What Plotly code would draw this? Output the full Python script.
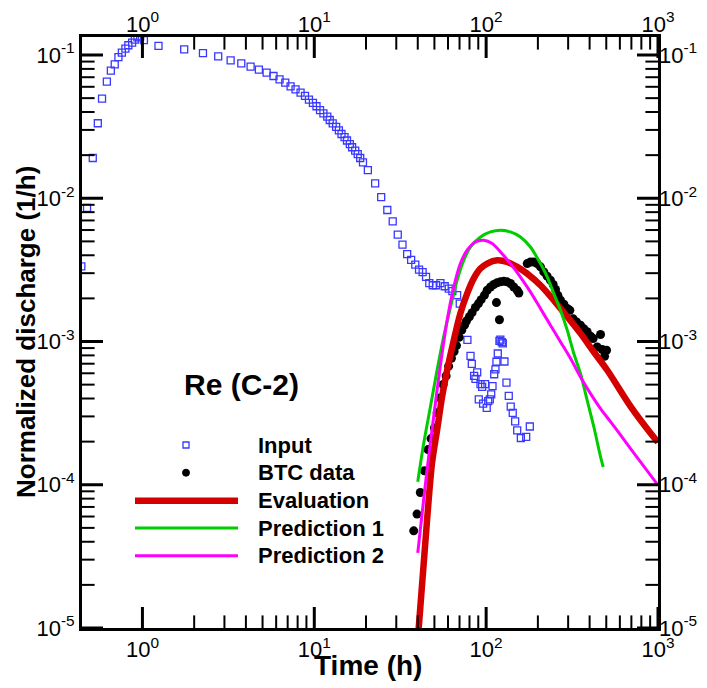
import math
import plotly.graph_objects as go

# ---------------- data ----------------
input_t = [0.441, 0.476, 0.514, 0.55, 0.582, 0.621, 0.655, 0.69, 0.725, 0.759, 0.796, 0.828, 0.871, 0.903,
           0.935, 0.97, 1.02, 1.24, 1.75, 2.25, 2.76, 3.26, 3.76, 4.26, 4.76, 5.28, 5.79, 6.28, 6.78, 7.28,
           7.78, 8.32, 8.83, 9.31, 9.82, 10.3, 10.8, 11.3, 11.9, 12.3, 12.8, 13.4, 13.9, 14.4, 15.0, 15.5,
           16.1, 16.6, 17.3, 17.9, 18.5, 19.2, 20.5, 22.6, 24.5, 26.6, 28.6, 30.6, 32.6, 34.7, 36.6, 38.7,
           40.7, 42.7, 44.7, 46.7, 48.9, 51.1, 54.2, 57.4, 60.6, 63.6, 67.8, 70.2, 77.8, 81.1, 82.5, 85.1,
           86.7, 88.7, 90.6, 92.7, 94.8, 96.0, 98.6, 100.8, 102.8, 105, 107, 108.9, 111.4, 113.3, 114.8,
           116.9, 119.5, 121, 123.3, 125, 127.8, 131.3, 135.4, 139, 142.8, 147.5, 151.6, 159.2, 171, 179.5]
input_q = [0.00335, 0.00855, 0.0191, 0.0334, 0.0496, 0.0652, 0.0778, 0.0861, 0.0968, 0.104, 0.111, 0.117,
           0.122, 0.128, 0.133, 0.135, 0.127, 0.116, 0.1096, 0.103, 0.098, 0.0918, 0.0875, 0.083, 0.079,
           0.0754, 0.0714, 0.0676, 0.0641, 0.0605, 0.0576, 0.0547, 0.0518, 0.0489, 0.0463, 0.0439, 0.0413,
           0.0392, 0.0371, 0.0352, 0.0333, 0.0315, 0.0298, 0.0281, 0.0267, 0.0253, 0.0239, 0.0227, 0.0215,
           0.0203, 0.0191, 0.0178, 0.0157, 0.0127, 0.0102, 0.00828, 0.0069, 0.00558, 0.00475, 0.00407,
           0.00371, 0.00344, 0.00318, 0.00305, 0.00283, 0.00256, 0.00247, 0.00247, 0.00256, 0.00243,
           0.00234, 0.00225, 0.00211, 0.00184, 0.001026, 0.000794, 0.000699, 0.000575, 0.000548, 0.000608,
           0.000394, 0.000504, 0.000482, 0.000369, 0.000504, 0.000344, 0.000383, 0.000394, 0.000427,
           0.000488, 0.000591, 0.000638, 0.000722, 0.000825, 0.00101, 0.00103, 0.00099, 0.00097, 0.000725,
           0.000517, 0.000417, 0.000351, 0.000318, 0.000277, 0.00024, 0.000212, 0.000216, 0.000255]

btc_t = [37.9, 39.6, 41.4, 43.7, 45.9, 47.8, 50, 51.9, 53.7, 56.2, 58.5, 60.5, 62.8, 65.1, 67.2, 69.6, 72.1,
         74.8, 76.8, 79.9, 82.8, 86.6, 90.2, 93.5, 97.8, 101.4, 106, 110.7, 115.8, 121.1, 126.7, 132.5, 138.6,
         144.8, 151.5, 155, 114.8, 119.5, 173.4, 181.1, 189.3, 198.1, 207, 216.5, 226.4, 236.7, 245.5, 253.4,
         261.4, 270.8, 283.3, 296.3, 307, 321, 335.7, 354, 370, 387, 405, 419.5, 443, 463, 474, 489, 502]
btc_q = [4.77e-5, 6.24e-5, 8.83e-5, 1.25e-4, 1.76e-4, 2.1e-4, 2.49e-4, 3.18e-4, 4.04e-4, 5.01e-4, 5.75e-4,
         6.73e-4, 7.64e-4, 8.51e-4, 9.37e-4, 1.07e-3, 1.2e-3, 1.3e-3, 1.39e-3, 1.49e-3, 1.59e-3, 1.73e-3,
         1.84e-3, 1.96e-3, 2.11e-3, 2.28e-3, 2.4e-3, 2.5e-3, 2.57e-3, 2.61e-3, 2.63e-3, 2.61e-3, 2.54e-3,
         2.4e-3, 2.28e-3, 2.18e-3, 1.87e-3, 1.42e-3, 3.5e-3, 3.59e-3, 3.59e-3, 3.5e-3, 3.32e-3, 3.06e-3,
         2.86e-3, 2.68e-3, 2.5e-3, 2.31e-3, 2.1e-3, 1.94e-3, 1.82e-3, 1.7e-3, 1.65e-3, 1.44e-3, 1.37e-3,
         1.3e-3, 1.23e-3, 1.17e-3, 1.09e-3, 1.05e-3, 9.17e-4, 1.12e-3, 8.79e-4, 7.88e-4, 8.69e-4]

eval_t = [40.0, 45.3, 48.4, 51.8, 55.4, 59.3, 64.8, 70.8, 77.5, 84.6, 92.6, 101.4, 116, 132.5, 151.6, 173.3,
          207, 247.6, 296.4, 354, 423.5, 507, 692, 906, 1000]
eval_q = [8.2e-6, 5.66e-5, 1.41e-4, 2.4e-4, 4.1e-4, 6.3e-4, 1.02e-3, 1.57e-3, 2.16e-3, 2.75e-3, 3.23e-3,
          3.5e-3, 3.69e-3, 3.59e-3, 3.32e-3, 2.98e-3, 2.47e-3, 1.94e-3, 1.49e-3, 1.14e-3, 8.45e-4, 6.3e-4,
          3.53e-4, 2.29e-4, 1.98e-4]

pred1_t = [40.0, 43.3, 47.4, 51.8, 56.6, 62, 67.8, 74.1, 81.1, 92.7, 105.9, 121.2, 138.4, 158.4, 181, 207,
           226.6, 247.6, 271, 296.4, 323.7, 354, 387, 423.5, 463, 480]
pred1_q = [1.05e-4, 1.94e-4, 3.5e-4, 6.3e-4, 1.08e-3, 1.74e-3, 2.68e-3, 3.69e-3, 4.57e-3, 5.37e-3, 5.82e-3,
           5.98e-3, 5.82e-3, 5.37e-3, 4.57e-3, 3.5e-3, 2.83e-3, 2.16e-3, 1.65e-3, 1.2e-3, 8.24e-4, 5.98e-4,
           3.89e-4, 2.53e-4, 1.57e-4, 1.33e-4]

pred2_t = [40.0, 42.4, 45.3, 48.4, 51.8, 55.4, 59.3, 64.8, 70.8, 77.5, 86.6, 96.8, 108.4, 121.2, 138.4, 158.4,
           181, 207, 236.7, 271, 310, 354, 405, 463, 530, 606, 692, 1000]
pred2_q = [3.35e-5, 6.3e-5, 1.27e-4, 2.4e-4, 4.57e-4, 8.24e-4, 1.41e-3, 2.4e-3, 3.5e-3, 4.34e-3, 4.95e-3,
           5.09e-3, 4.83e-3, 4.22e-3, 3.5e-3, 2.82e-3, 2.22e-3, 1.7e-3, 1.3e-3, 9.93e-4, 7.6e-4, 5.66e-4,
           4.33e-4, 3.4e-4, 2.75e-4, 2.22e-4, 1.79e-4, 9.93e-5]

x_tick_vals = [1, 10, 100, 1000]
x_tick_text = ["10<sup>0</sup>", "10<sup>1</sup>", "10<sup>2</sup>", "10<sup>3</sup>"]
y_tick_vals = [1e-5, 1e-4, 1e-3, 1e-2, 1e-1]
y_tick_text = ["10<sup>-5</sup>", "10<sup>-4</sup>", "10<sup>-3</sup>", "10<sup>-2</sup>", "10<sup>-1</sup>"]

legend_names = ["Input", "BTC data", "Evaluation", "Prediction 1", "Prediction 2"]
annotation_text = "Re (C-2)"
x_title = "Time (h)"
y_title = "Normalized discharge (1/h)"

# ---------------- styles ----------------
BLUE = "#3838ff"
RED = "#d40000"
GREEN = "#00cc00"
MAGENTA = "#ff00ff"
FONT = "Liberation Sans, Arial, sans-serif"

FIG_W, FIG_H = 707, 688
ML, MR, MT, MB = 82, 49, 37, 60
W, H = FIG_W - ML - MR, FIG_H - MT - MB

x_lo, x_hi = 0.445, 1000
y_lo, y_hi = 1e-5, 0.1336
x_range = [math.log10(x_lo), math.log10(x_hi)]
y_range = [math.log10(y_lo), math.log10(y_hi)]
x_minor = [k * 10 ** e for e in range(0, 3) for k in range(2, 10)]
y_minor = [k * 10 ** e for e in range(-5, -1) for k in range(2, 10)]

fig = go.Figure()
fig.add_trace(go.Scatter(x=input_t, y=input_q, mode="markers", name=legend_names[0],
                         marker=dict(symbol="square-open", size=7, color=BLUE, line=dict(width=1.3, color=BLUE))))
fig.add_trace(go.Scatter(x=btc_t, y=btc_q, mode="markers", name=legend_names[1],
                         marker=dict(symbol="circle", size=9, color="black")))
fig.add_trace(go.Scatter(x=eval_t, y=eval_q, mode="lines", name=legend_names[2],
                         line=dict(color=RED, width=6.5, shape="spline", smoothing=0.8)))
fig.add_trace(go.Scatter(x=pred1_t, y=pred1_q, mode="lines", name=legend_names[3],
                         line=dict(color=GREEN, width=3, shape="spline", smoothing=0.8)))
fig.add_trace(go.Scatter(x=pred2_t, y=pred2_q, mode="lines", name=legend_names[4],
                         line=dict(color=MAGENTA, width=3, shape="spline", smoothing=0.8)))


# ---------------- tick marks drawn as clipped line markers on the axis edges ----------------
def tick_markers(xvals, yvals, length, width):
    xs, ys, syms = [], [], []
    for v in xvals:
        if x_lo < v <= x_hi * 1.0001:
            xs += [v, v]
            ys += [y_lo, y_hi]
            syms += ["line-ns", "line-ns"]
    for v in yvals:
        if y_lo * 0.9999 <= v < y_hi:
            xs += [x_lo, x_hi]
            ys += [v, v]
            syms += ["line-ew", "line-ew"]
    return go.Scatter(x=xs, y=ys, mode="markers", cliponaxis=True, hoverinfo="skip", showlegend=False,
                      marker=dict(symbol=syms, size=2 * length, color="black",
                                  line=dict(color="black", width=width)))


fig.add_trace(tick_markers(x_tick_vals, y_tick_vals, 15, 3))
fig.add_trace(tick_markers(x_minor, y_minor, 9, 2))
# empty trace so that the top/right label axes get drawn
fig.add_trace(go.Scatter(x=[], y=[], xaxis="x2", yaxis="y2", mode="markers", showlegend=False,
                         hoverinfo="skip"))

tickfont = dict(family=FONT, size=22, color="black")
base_axis = dict(type="log", showgrid=False, zeroline=False, ticks="", tickfont=tickfont,
                 automargin=False, tickmode="array")

fig.update_layout(
    width=FIG_W, height=FIG_H,
    margin=dict(l=ML, r=MR, t=MT, b=MB),
    plot_bgcolor="white", paper_bgcolor="white",
    showlegend=False,
    font=dict(family=FONT, color="black"),
    xaxis=dict(**base_axis, range=x_range, tickvals=x_tick_vals, ticktext=x_tick_text,
               showline=True, linewidth=3, linecolor="black", mirror=True),
    yaxis=dict(**base_axis, range=y_range, tickvals=y_tick_vals, ticktext=y_tick_text,
               showline=True, linewidth=3, linecolor="black", mirror=True),
    xaxis2=dict(**base_axis, range=x_range, tickvals=x_tick_vals, ticktext=x_tick_text,
                showline=False, overlaying="x", side="top", anchor="y"),
    yaxis2=dict(**base_axis, range=y_range, tickvals=y_tick_vals, ticktext=y_tick_text,
                showline=False, overlaying="y", side="right", anchor="x"),
)


# ---------------- titles, annotation & manual legend ----------------
def px2paper(px, py):
    return (px - ML) / W, (FIG_H - MB - py) / H


tx, ty = px2paper(368, 666)
fig.add_annotation(x=tx, y=ty, xref="paper", yref="paper", text="<b>" + x_title + "</b>",
                   showarrow=False, xanchor="center", yanchor="middle",
                   font=dict(family=FONT, size=28, color="black"))
tx, ty = px2paper(26, 332)
fig.add_annotation(x=tx, y=ty, xref="paper", yref="paper", text="<b>" + y_title + "</b>",
                   showarrow=False, xanchor="center", yanchor="middle", textangle=-90,
                   font=dict(family=FONT, size=26, color="black"))

ax, ay = px2paper(241.5, 384)
fig.add_annotation(x=ax, y=ay, xref="paper", yref="paper", text="<b>" + annotation_text + "</b>",
                   showarrow=False, xanchor="center", yanchor="middle",
                   font=dict(family=FONT, size=30, color="black"))

rows_y = [445, 472.7, 500.7, 528, 555.7]
text_x, _ = px2paper(256, 0)
mx, _ = px2paper(186, 0)
lx0, _ = px2paper(135, 0)
lx1, _ = px2paper(238, 0)
for i, name in enumerate(legend_names):
    _, yy = px2paper(0, rows_y[i])
    fig.add_annotation(x=text_x, y=yy, xref="paper", yref="paper", text="<b>" + name + "</b>",
                       showarrow=False, xanchor="left", yanchor="middle",
                       font=dict(family=FONT, size=22, color="black"))
    if i == 0:
        fig.add_shape(type="rect", xref="paper", yref="paper", xsizemode="pixel", ysizemode="pixel",
                      xanchor=mx, yanchor=yy, x0=-3, x1=3, y0=-3, y1=3,
                      line=dict(color=BLUE, width=1.3), fillcolor="rgba(0,0,0,0)")
    elif i == 1:
        fig.add_shape(type="circle", xref="paper", yref="paper", xsizemode="pixel", ysizemode="pixel",
                      xanchor=mx, yanchor=yy, x0=-3.5, x1=3.5, y0=-3.5, y1=3.5,
                      line=dict(color="black", width=1), fillcolor="black")
    else:
        color, width = [(RED, 6.5), (GREEN, 3), (MAGENTA, 3)][i - 2]
        fig.add_shape(type="line", xref="paper", yref="paper", x0=lx0, x1=lx1, y0=yy, y1=yy,
                      line=dict(color=color, width=width))

fig.write_html("out.html")
